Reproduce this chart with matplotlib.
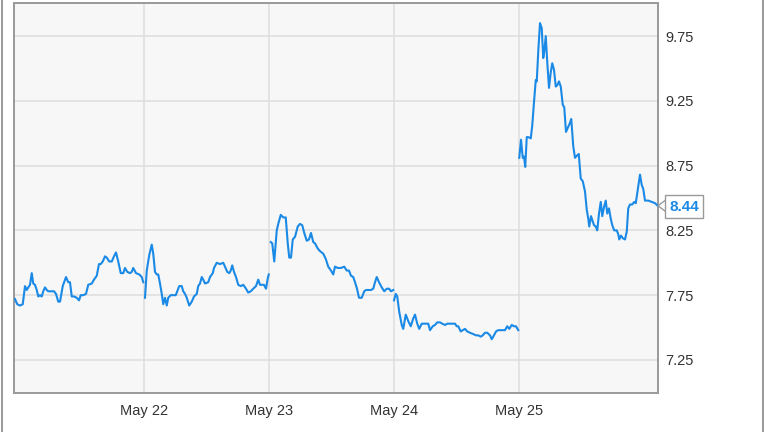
import numpy as np
import matplotlib
matplotlib.use("Agg")
import matplotlib.pyplot as plt
from matplotlib.lines import Line2D

plt.rcParams['font.family'] = ['Liberation Sans', 'DejaVu Sans']

# ---- data (x in trading-day units; May 22 = 1) ----
may21_t = [-0.032, -0.014, 0.008, 0.030, 0.048, 0.062, 0.074, 0.088, 0.102, 0.114,
           0.128, 0.142, 0.154, 0.168, 0.182, 0.194, 0.208, 0.222, 0.234, 0.262,
           0.280, 0.296, 0.314, 0.328, 0.350, 0.376, 0.394, 0.408, 0.422, 0.440,
           0.462, 0.480, 0.494, 0.514, 0.536, 0.554, 0.582, 0.600, 0.622, 0.640,
           0.654, 0.670, 0.688, 0.702, 0.722, 0.742, 0.760, 0.776, 0.794, 0.814,
           0.834, 0.848, 0.866, 0.888, 0.902, 0.914, 0.936, 0.962, 0.982, 0.994]
may21_p = [7.72, 7.68, 7.67, 7.68, 7.82, 7.79, 7.81, 7.83, 7.92, 7.84,
           7.83, 7.79, 7.74, 7.75, 7.74, 7.78, 7.81, 7.79, 7.78, 7.78,
           7.78, 7.76, 7.70, 7.70, 7.82, 7.89, 7.85, 7.85, 7.74, 7.74,
           7.73, 7.71, 7.75, 7.75, 7.76, 7.83, 7.84, 7.87, 7.90, 7.99,
           7.99, 8.01, 8.05, 8.04, 8.01, 8.01, 8.05, 8.08, 8.01, 7.92,
           7.92, 7.96, 7.93, 7.92, 7.93, 7.96, 7.92, 7.91, 7.89, 7.85]

may22_t = [1.008, 1.022, 1.042, 1.062, 1.074, 1.088, 1.102, 1.114, 1.128, 1.142,
           1.154, 1.168, 1.182, 1.194, 1.214, 1.234, 1.254, 1.266, 1.282, 1.302,
           1.314, 1.328, 1.342, 1.362, 1.382, 1.400, 1.422, 1.434, 1.448, 1.462,
           1.474, 1.488, 1.514, 1.528, 1.550, 1.560, 1.582, 1.608, 1.634, 1.648,
           1.666, 1.682, 1.694, 1.706, 1.720, 1.736, 1.754, 1.774, 1.794, 1.816,
           1.834, 1.854, 1.874, 1.896, 1.914, 1.928, 1.942, 1.960, 1.976, 1.990,
           1.998]
may22_p = [7.73, 7.94, 8.06, 8.14, 8.07, 7.93, 7.91, 7.91, 7.84, 7.76,
           7.68, 7.73, 7.67, 7.73, 7.75, 7.75, 7.75, 7.78, 7.82, 7.82,
           7.78, 7.76, 7.73, 7.67, 7.70, 7.74, 7.76, 7.82, 7.84, 7.89,
           7.87, 7.84, 7.85, 7.89, 7.92, 7.96, 8.00, 7.99, 8.00, 7.97,
           7.93, 7.92, 7.94, 7.98, 7.93, 7.89, 7.83, 7.82, 7.83, 7.80,
           7.77, 7.78, 7.80, 7.82, 7.87, 7.83, 7.83, 7.83, 7.80, 7.88,
           7.91]

may23_t = [2.014, 2.026, 2.042, 2.062, 2.074, 2.094, 2.114, 2.134, 2.150, 2.162,
           2.176, 2.190, 2.208, 2.230, 2.248, 2.266, 2.282, 2.302, 2.320, 2.336,
           2.354, 2.368, 2.390, 2.408, 2.434, 2.454, 2.474, 2.496, 2.514, 2.528,
           2.550, 2.576, 2.602, 2.622, 2.640, 2.656, 2.674, 2.688, 2.704, 2.720,
           2.742, 2.762, 2.776, 2.794, 2.816, 2.834, 2.848, 2.862, 2.880, 2.902,
           2.922, 2.942, 2.960, 2.976, 2.994]
may23_p = [8.16, 8.15, 8.01, 8.25, 8.30, 8.37, 8.35, 8.35, 8.15, 8.04,
           8.04, 8.18, 8.20, 8.28, 8.30, 8.29, 8.23, 8.17, 8.18, 8.23,
           8.16, 8.15, 8.11, 8.09, 8.07, 8.03, 7.97, 7.94, 7.91, 7.97,
           7.96, 7.96, 7.97, 7.94, 7.94, 7.90, 7.89, 7.85, 7.80, 7.73,
           7.73, 7.78, 7.79, 7.79, 7.79, 7.80, 7.85, 7.89, 7.85, 7.81,
           7.78, 7.80, 7.80, 7.78, 7.79]

may24_t = [3.000, 3.014, 3.026, 3.042, 3.062, 3.074, 3.094, 3.114, 3.134, 3.154,
           3.168, 3.186, 3.202, 3.222, 3.248, 3.274, 3.288, 3.310, 3.328, 3.346,
           3.368, 3.386, 3.408, 3.426, 3.448, 3.470, 3.488, 3.502, 3.514, 3.534,
           3.550, 3.568, 3.586, 3.608, 3.634, 3.656, 3.674, 3.694, 3.710, 3.728,
           3.746, 3.768, 3.782, 3.800, 3.816, 3.834, 3.854, 3.874, 3.888, 3.906,
           3.922, 3.942, 3.960, 3.976, 3.994]
may24_p = [7.71, 7.76, 7.74, 7.62, 7.52, 7.49, 7.60, 7.55, 7.51, 7.57,
           7.60, 7.53, 7.49, 7.53, 7.53, 7.53, 7.48, 7.51, 7.52, 7.54,
           7.54, 7.53, 7.52, 7.53, 7.53, 7.53, 7.53, 7.51, 7.51, 7.47,
           7.48, 7.49, 7.47, 7.46, 7.45, 7.44, 7.44, 7.43, 7.44, 7.46,
           7.46, 7.44, 7.41, 7.44, 7.47, 7.48, 7.48, 7.48, 7.48, 7.51,
           7.49, 7.52, 7.51, 7.51, 7.48]

may25_t = [4.002, 4.016, 4.030, 4.040, 4.050, 4.062, 4.074, 4.094, 4.106, 4.120,
           4.134, 4.142, 4.154, 4.168, 4.182, 4.194, 4.202, 4.214, 4.226, 4.240,
           4.254, 4.266, 4.280, 4.294, 4.306, 4.320, 4.334, 4.350, 4.362, 4.376,
           4.394, 4.408, 4.418, 4.434, 4.448, 4.466, 4.478, 4.494, 4.510, 4.528,
           4.542, 4.554, 4.562, 4.576, 4.586, 4.600, 4.614, 4.626, 4.640, 4.654,
           4.666, 4.680, 4.694, 4.706, 4.720, 4.734, 4.746, 4.762, 4.782, 4.794,
           4.802, 4.816, 4.830, 4.848, 4.862, 4.874, 4.888, 4.906, 4.922, 4.934,
           4.942, 4.954, 4.968, 4.982, 4.994, 5.008, 5.034, 5.062, 5.088, 5.110]
may25_p = [8.81, 8.95, 8.81, 8.82, 8.74, 8.97, 8.97, 8.96, 9.06, 9.24,
           9.41, 9.40, 9.63, 9.85, 9.81, 9.58, 9.63, 9.75, 9.55, 9.35,
           9.47, 9.54, 9.49, 9.36, 9.37, 9.40, 9.36, 9.22, 9.20, 9.01,
           9.05, 9.08, 9.11, 8.90, 8.81, 8.83, 8.84, 8.65, 8.63, 8.55,
           8.41, 8.34, 8.28, 8.36, 8.33, 8.29, 8.28, 8.25, 8.38, 8.47,
           8.36, 8.43, 8.48, 8.38, 8.42, 8.34, 8.29, 8.25, 8.25, 8.22,
           8.18, 8.21, 8.19, 8.18, 8.24, 8.42, 8.45, 8.45, 8.47, 8.46,
           8.51, 8.59, 8.68, 8.60, 8.57, 8.48, 8.48, 8.47, 8.46, 8.44]

tick_pos = [1, 2, 3, 4]
tick_labels = ["May 22", "May 23", "May 24", "May 25"]
ytick_vals = [7.25, 7.75, 8.25, 8.75, 9.25, 9.75]

line_color = "#1a8ae6"
grid_color = "#dddddd"
frame_color = "#999999"

fig = plt.figure(figsize=(7.64, 4.32), dpi=100)
ax = fig.add_axes([14 / 764, 1 - 393 / 432, (658 - 14) / 764, (393 - 3) / 432])
ax.set_facecolor("#f7f7f7")

for t, p in [(may21_t, may21_p), (may22_t, may22_p), (may23_t, may23_p),
             (may24_t, may24_p), (may25_t, may25_p)]:
    ax.plot(t, p, color=line_color, lw=1.5, solid_joinstyle="round", zorder=3)

ax.set_xlim(-0.04, 5.112)
ax.set_ylim(6.995, 10.005)

ax.set_xticks(tick_pos)
ax.set_xticklabels(tick_labels)
ax.set_yticks(ytick_vals)
ax.set_yticklabels([f"{v:.2f}" for v in ytick_vals])
ax.yaxis.tick_right()
ax.tick_params(axis="both", length=0, labelsize=10.5, colors="#333333")
ax.tick_params(axis="x", pad=8)
ax.tick_params(axis="y", pad=5)
ax.grid(True, color=grid_color, lw=1.1, zorder=0)
ax.set_axisbelow(True)
for s in ax.spines.values():
    s.set_color(frame_color)
    s.set_linewidth(1.4)

# last value callout
last = may25_p[-1]
trans = ax.get_yaxis_transform()
base = trans.transform((1.0, last))
fig_inv = fig.transFigure.inverted()
verts_px = [(base[0] + 8, base[1] + 6), (base[0], base[1]), (base[0] + 8, base[1] - 6)]
verts_fig = [fig_inv.transform(v) for v in verts_px]
fig.add_artist(Line2D([v[0] for v in verts_fig], [v[1] for v in verts_fig],
                      color="#999999", lw=1.0, transform=fig.transFigure))
tx = fig_inv.transform((base[0] + 11, base[1] - 1))
fig.text(tx[0], tx[1], f"{last:.2f}", color=line_color, fontsize=11,
         fontweight="bold", ha="left", va="center",
         bbox=dict(boxstyle="square,pad=0.28", fc="white", ec="#999999", lw=1.0))

# outer figure side borders
fig.add_artist(Line2D([1.5 / 764, 1.5 / 764], [0, 1], color="#999999", lw=1.4,
                      transform=fig.transFigure))
fig.add_artist(Line2D([762.5 / 764, 762.5 / 764], [0, 1], color="#999999", lw=1.4,
                      transform=fig.transFigure))

fig.savefig("out.png", dpi=100)
